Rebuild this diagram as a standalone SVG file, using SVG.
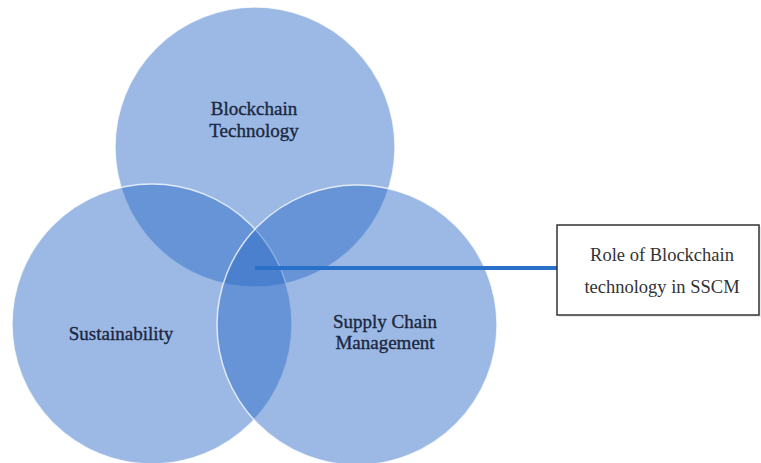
<svg xmlns="http://www.w3.org/2000/svg" width="761" height="463" viewBox="0 0 761 463">
<style>
.c{fill:rgb(42,106,198);fill-opacity:0.47;stroke:#ffffff;stroke-opacity:0.75;stroke-width:1.5}
.t{font-family:"Liberation Serif","Times New Roman",serif;font-size:19px;fill:#1b2740;stroke:#1b2740;stroke-width:0.35;text-anchor:middle}
.b{font-family:"Liberation Serif","Times New Roman",serif;font-size:18.5px;fill:#333333;text-anchor:middle}
</style>
<rect width="761" height="463" fill="#ffffff"/>
<g id="node-blockchain">
<circle class="c" cx="255" cy="147" r="140"/>
<text class="t" x="254" y="115">Blockchain</text>
<text class="t" x="254" y="137">Technology</text>
</g>
<g id="node-sustainability">
<circle class="c" cx="152" cy="324" r="140"/>
<text class="t" x="121" y="340">Sustainability</text>
</g>
<g id="node-scm">
<circle class="c" cx="357" cy="325" r="140"/>
<text class="t" x="385" y="328">Supply Chain</text>
<text class="t" x="385" y="349">Management</text>
</g>
<g id="connectors">
<line x1="255" y1="268" x2="557" y2="268" stroke="rgb(40,112,200)" stroke-width="4"/>
</g>
<g id="node-role">
<rect x="559" y="227" width="202" height="90" fill="#cccccc" opacity="0.4"/>
<rect x="557" y="225" width="202" height="90" fill="#ffffff" stroke="#333333" stroke-width="1.5"/>
<text class="b" x="662" y="261">Role of Blockchain</text>
<text class="b" x="662" y="293">technology in SSCM</text>
</g>
</svg>
